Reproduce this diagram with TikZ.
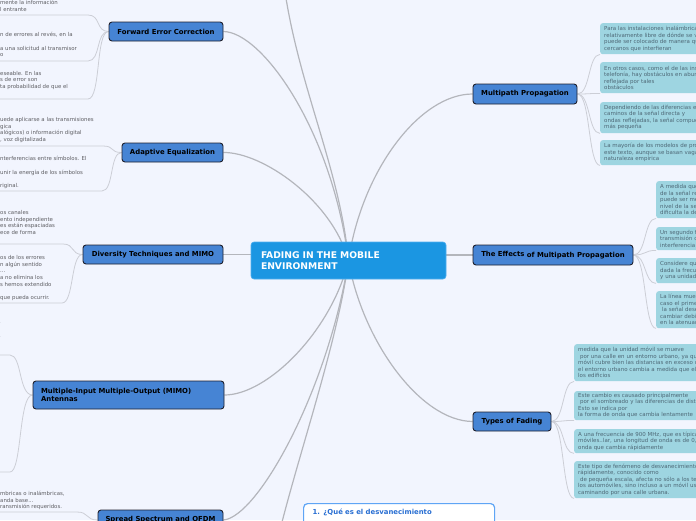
\documentclass[tikz,border=0pt]{standalone}
\usepackage{fontspec}
\setmainfont{DejaVu Sans}
\definecolor{bg}{RGB}{242,245,254}
\definecolor{rootfill}{RGB}{27,150,226}
\definecolor{rootline}{RGB}{80,175,240}
\definecolor{mainfill}{RGB}{70,132,212}
\definecolor{mainline}{RGB}{30,32,45}
\definecolor{subfill}{RGB}{158,213,225}
\definecolor{subtext}{RGB}{78,104,118}
\definecolor{lefttext}{RGB}{95,95,100}
\definecolor{rootconn}{RGB}{180,182,188}
\definecolor{subconn}{RGB}{204,206,214}
\definecolor{qblue}{RGB}{40,110,210}
\definecolor{qline}{RGB}{95,165,245}
\pgfdeclarelayer{bgfill}
\pgfdeclarelayer{conn}
\pgfsetlayers{bgfill,conn,main}
\tikzset{
 rootbox/.style={draw=rootline, line width=0.6pt, fill=rootfill, rounded corners=3pt, minimum width=195pt, minimum height=37pt, text width=175pt, inner xsep=10pt, align=left, text=white, font=\fontsize{9.2}{10.5}\selectfont\bfseries},
 topic/.style={draw=mainline, line width=0.9pt, fill=mainfill, rounded corners=3pt, inner sep=0pt, font=\fontsize{6.9}{8}\selectfont\bfseries, text=black},
 subbox/.style={fill=subfill, rounded corners=2.5pt, anchor=north west, inner xsep=4pt, inner ysep=0pt, text width=220pt, align=left, text=subtext, font=\fontsize{5.5}{6.5}\selectfont},
 leftnote/.style={anchor=west, inner sep=0pt, align=left, text=lefttext, font=\fontsize{5.4}{6.6}\selectfont},
 rootlink/.style={draw=rootconn, line width=1.2pt},
 sublink/.style={draw=subconn, line width=0.8pt},
 qbox/.style={draw=qline, line width=1.2pt, fill=white, rounded corners=4pt, anchor=north west, inner xsep=9pt, inner ysep=5.5pt, text width=173pt, align=left, text=qblue, font=\fontsize{6.9}{8}\selectfont\bfseries},
}
\begin{document}
\begin{tikzpicture}[x=1pt,y=-1pt]
\begin{pgfonlayer}{bgfill}
\path[fill=bg] (0,0) rectangle (696,520);
\end{pgfonlayer}
\useasboundingbox (0,0) rectangle (696,520);
\clip (0,0) rectangle (696,520);

% ---------- nodes ----------
\node[rootbox] (root) at (348.5,260.5) {FADING IN THE MOBILE\\ENVIRONMENT};

\node[topic, minimum width=114pt, minimum height=19pt] (fec) at (166,31.5) {Forward Error Correction};
\node[topic, minimum width=101pt, minimum height=19pt] (ae) at (172.5,152.5) {Adaptive Equalization};
\node[topic, minimum width=140pt, minimum height=19pt] (div) at (153,254.5) {Diversity Techniques and MIMO};
\node[topic, minimum width=191pt, minimum height=28pt, text width=175pt, inner xsep=8pt, align=left] (mimo) at (128.5,395) {Multiple-Input Multiple-Output (MIMO)\\Antennas};
\node[topic, minimum width=125pt, minimum height=20pt] (ss) at (160.5,520) {Spread Spectrum and OFDM};

\node[topic, minimum width=104pt, minimum height=20pt] (mp) at (525,94) {Multipath Propagation};
\node[topic, minimum width=160pt, minimum height=20pt] (eff) at (553,255) {\raisebox{1pt}{The Effects} of Multipath Propagation};
\node[topic, minimum width=78pt, minimum height=19pt] (tf) at (512,421.5) {Types of Fading};

\node[qbox] (q) at (303,503) {1. ¿Qué es el desvanecimiento\\\mbox{}\\\mbox{}\\\mbox{}};

% ---------- right sub boxes ----------
\node[subbox, minimum height=31pt] (mp1) at (600,23) {Para las instalaciones inalámbricas fijas, el entorno\\relativamente libre de dónde se va a colocar la antena\\puede ser colocado de manera que no haya obstáculos\\cercanos que interfieran};
\node[subbox, minimum height=31pt] (mp2) at (600,62) {En otros casos, como el de las instalaciones de\\telefonía, hay obstáculos en abundancia y la señal es\\reflejada por tales\\obstáculos};
\node[subbox, minimum height=31pt] (mp3) at (600,102) {Dependiendo de las diferencias en las longitudes de los\\caminos de la señal directa y\\ondas reflejadas, la señal compuesta puede ser mayor o\\más pequeña};
\node[subbox, minimum height=25pt] (mp4) at (600,140) {La mayoría de los modelos de propagación usados en\\este texto, aunque se basan vagamente en teoría, son de\\naturaleza empírica};

\node[subbox, minimum height=37pt] (ef1) at (656,181) {A medida que el móvil se mueve\\de la señal recibida fluctúa\\puede ser menor que el\\nivel de la señal de ruido\\dificulta la detección};
\node[subbox, minimum height=23pt] (ef2) at (656,227) {Un segundo fenómeno\\transmisión digital\\interferencia entre símbolos};
\node[subbox, minimum height=25pt] (ef3) at (656,258) {Considere que se envía\\dada la frecuencia\\y una unidad de tiempo};
\node[subbox, minimum height=37pt] (ef4) at (656,291) {La línea muestra los pulsos\\caso el primer pulso\\\ la señal deseada\\cambiar debido a\\en la atenuación};

\node[subbox, minimum height=37pt] (tf1) at (574,344) {medida que la unidad móvil se mueve\\\ por una calle en un entorno urbano, ya que la unidad\\móvil cubre bien las distancias en exceso de una longitud\\el entorno urbano cambia a medida que el usuario pasa\\los edificios};
\node[subbox, minimum height=29pt] (tf2) at (574,391) {Este cambio es causado principalmente\\\ por el sombreado y las diferencias de distancia.\\Esto se indica por\\la forma de onda que cambia lentamente};
\node[subbox, minimum height=24pt] (tf3) at (574,429) {A una frecuencia de 900 MHz, que es típica para\\móviles..lar, una longitud de onda es de 0,33 m\\onda que cambia rápidamente};
\node[subbox, minimum height=37pt] (tf4) at (574,461) {Este tipo de fenómeno de desvanecimiento que cambia\\rápidamente, conocido como\\\ de pequeña escala, afecta no sólo a los teléfonos de\\los automóviles, sino incluso a un móvil usuario\\caminando por una calle urbana.};

% ---------- left notes ----------
\node[leftnote] (fa) at (0,6) {mente la información\\l entrante};
\node[leftnote] (fb) at (0,44.6) {n de errores al revés, en la\\\mbox{}\\a una solicitud al transmisor\\o};
\node[leftnote] (fc) at (0,80.5) {eseable. En las\\s de error son\\ta probabilidad de que el};
\node[leftnote] (aa) at (0,130) {uede aplicarse a las transmisiones\\gica\\alógicos) o información digital\\, voz digitalizada};
\node[leftnote] (ab) at (0,172.5) {nterferencias entre símbolos. El\\\mbox{}\\unir la energía de los símbolos\\\mbox{}\\riginal.};
\node[leftnote] (da) at (0,222.5) {os canales\\ento independiente\\es están espaciadas\\ece de forma};
\node[leftnote] (db) at (0,278) {os de los errores\\n algún sentido\\...\\a no elimina los\\s hemos extendido\\\mbox{}\\que pueda ocurrir.};
\node[leftnote] (ma) at (-1,323) {.};
\node[leftnote] (mb) at (-1,337) {.};
\node[leftnote] (sa) at (0,500.5) {mbricas o inalámbricas,\\anda base...\\ransmisión requeridos.};

% ---------- coordinates ----------
\coordinate (f1) at (88,15);  \coordinate (f1l) at (-3,15);
\coordinate (f2) at (88,61);  \coordinate (f2l) at (-3,61);
\coordinate (f3) at (88,99);  \coordinate (f3l) at (-3,99);
\coordinate (a1) at (103,146); \coordinate (a1l) at (-3,146);
\coordinate (a2) at (102,191); \coordinate (a2l) at (-3,191);
\coordinate (d1) at (63,244); \coordinate (d1l) at (-3,244);
\coordinate (d2) at (62,303); \coordinate (d2l) at (-3,303);
\coordinate (m1) at (10,355); \coordinate (m1l) at (-3,355);
\coordinate (m2) at (10,472); \coordinate (m2l) at (-3,472);
\coordinate (s1) at (77,512); \coordinate (s1l) at (-3,512);
\coordinate (up) at (285,-8);
\coordinate (down) at (280,530);

% ---------- connectors (behind nodes) ----------
\begin{pgfonlayer}{conn}
\clip (0,0) rectangle (696,520);
% root links
\draw[rootlink] (fec.east) .. controls (262,32) and (332,130) .. (root.center);
\draw[rootlink] (ae.east) .. controls (262,152) and (332,200) .. (root.center);
\draw[rootlink] (up) .. controls (300,90) and (340,170) .. (root.center);
\draw[rootlink] (div.east) -- (div.east -| root.center);
\draw[rootlink] (mimo.east) .. controls (268,395) and (332,330) .. (root.center);
\draw[rootlink] (ss.east) .. controls (258,517) and (328,390) .. (root.center);
\draw[rootlink] (down) .. controls (300,450) and (338,340) .. (root.center);
\draw[rootlink] (mp.west) .. controls (420,94) and (362,170) .. (root.center);
\draw[rootlink] (eff.west) -- (eff.west -| root.center);
\draw[rootlink] (tf.west) .. controls (420,421) and (362,340) .. (root.center);
% left sub links
\draw[sublink] (fec.west) .. controls +(-13,0) and +(13,0) .. (f1) -- (f1l);
\draw[sublink] (fec.west) .. controls +(-13,0) and +(13,0) .. (f2) -- (f2l);
\draw[sublink] (fec.west) .. controls +(-13,0) and +(13,0) .. (f3) -- (f3l);
\draw[sublink] (ae.west) .. controls +(-12,0) and +(12,0) .. (a1) -- (a1l);
\draw[sublink] (ae.west) .. controls +(-12,0) and +(12,0) .. (a2) -- (a2l);
\draw[sublink] (div.west) .. controls +(-12,0) and +(12,0) .. (d1) -- (d1l);
\draw[sublink] (div.west) .. controls +(-12,0) and +(12,0) .. (d2) -- (d2l);
\draw[sublink] (mimo.west) .. controls +(-14,0) and +(12,0) .. (m1) -- (m1l);
\draw[sublink] (mimo.west) .. controls +(-14,0) and +(12,0) .. (m2) -- (m2l);
\draw[sublink] (ss.west) .. controls +(-12,0) and +(12,0) .. (s1) -- (s1l);
% right sub links
\draw[sublink] (mp.east) .. controls +(13,0) and +(-12,0) .. (mp1.south west);
\draw[sublink] (mp.east) .. controls +(13,0) and +(-12,0) .. (mp2.south west);
\draw[sublink] (mp.east) .. controls +(13,0) and +(-12,0) .. (mp3.south west);
\draw[sublink] (mp.east) .. controls +(13,0) and +(-12,0) .. (mp4.south west);
\draw[sublink] (eff.east) .. controls +(13,0) and +(-12,0) .. (ef1.south west);
\draw[sublink] (eff.east) .. controls +(13,0) and +(-12,0) .. (ef2.south west);
\draw[sublink] (eff.east) .. controls +(13,0) and +(-12,0) .. (ef3.south west);
\draw[sublink] (eff.east) .. controls +(13,0) and +(-12,0) .. (ef4.south west);
\draw[sublink] (tf.east) .. controls +(13,0) and +(-12,0) .. (tf1.south west);
\draw[sublink] (tf.east) .. controls +(13,0) and +(-12,0) .. (tf2.south west);
\draw[sublink] (tf.east) .. controls +(13,0) and +(-12,0) .. (tf3.south west);
\draw[sublink] (tf.east) .. controls +(13,0) and +(-12,0) .. (tf4.south west);
\end{pgfonlayer}
\end{tikzpicture}
\end{document}
